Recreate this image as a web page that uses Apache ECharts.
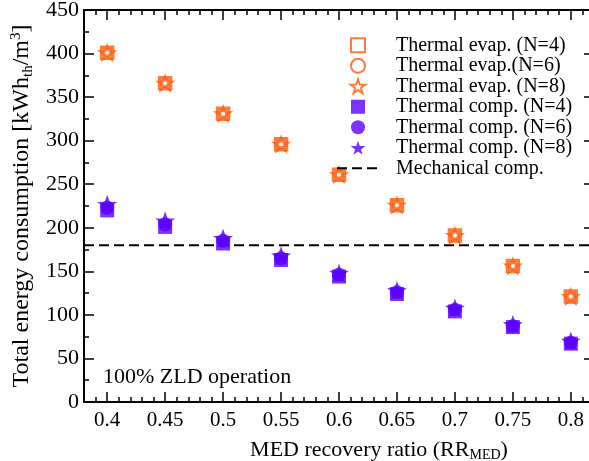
<!DOCTYPE html>
<html>
<head>
<meta charset="utf-8">
<script src="https://cdn.jsdelivr.net/npm/echarts@6/dist/echarts.min.js"></script>
<style>
  html, body { margin: 0; padding: 0; background: #fff; }
  #chart { width: 589px; height: 461px; }
</style>
</head>
<body>
<div id="chart"></div>
<script>
const ratios = [0.4, 0.45, 0.5, 0.55, 0.6, 0.65, 0.7, 0.75, 0.8];
const evapN4 = [401, 366, 331, 296, 261, 226, 191, 156, 121];
const evapN6 = [401, 366, 331, 296, 261, 226, 191, 156, 121];
const evapN8 = [401, 366, 331, 296, 261, 226, 191, 156, 121];
const compN4 = [220, 201, 182, 163, 144, 124, 104, 86, 67];
const compN6 = [223, 204, 185, 165, 146, 126, 106, 87, 68];
const compN8 = [227, 208, 188, 168, 148, 128, 108, 89, 70];
const mechanical = 180;
const xMin = 0.38;
const xMax = 0.82;
const xTicks = [0.4, 0.45, 0.5, 0.55, 0.6, 0.65, 0.7, 0.75, 0.8];

const FONT = "Liberation Serif";
const ORANGE = "#ff5a0a";
const PURPLE = "#5a00ff";
const STAR = "path://M0,-10L2.35,-3.24L9.51,-3.09L3.8,1.24L5.88,8.09L0,4L-5.88,8.09L-3.8,1.24L-9.51,-3.09L-2.35,-3.24Z";
const SQUARE = "path://M0,0H10V10H0Z";

const pairs = (ys) => ratios.map((x, i) => [x, ys[i]]);

const chart = echarts.init(document.getElementById("chart"));

const minorX = (pos) => ({
  type: "value",
  position: pos,
  min: xMin,
  max: xMax,
  interval: 0.01,
  axisLine: { show: true, lineStyle: { color: "#000", width: 2 } },
  axisTick: { show: true, inside: true, length: 5, lineStyle: { color: "#000", width: 1.5 } },
  axisLabel: { show: false },
  splitLine: { show: false },
});

const majorX = (pos, labels) => ({
  type: "value",
  position: pos,
  min: xMin,
  max: xMax,
  axisLine: { show: false },
  axisTick: { show: true, inside: true, length: 10, customValues: xTicks, lineStyle: { color: "#000", width: 1.5 } },
  axisLabel: {
    show: labels,
    customValues: xTicks,
    margin: 8,
    color: "#000",
    fontFamily: FONT,
    fontSize: 21,
    formatter: (v) => String(v),
  },
  splitLine: { show: false },
});

const yAxisOf = (pos, labels) => ({
  type: "value",
  position: pos,
  min: 0,
  max: 450,
  interval: 50,
  axisLine: { show: true, lineStyle: { color: "#000", width: 2 } },
  axisTick: { show: true, inside: true, length: 10, lineStyle: { color: "#000", width: 1.5 } },
  minorTick: { show: true, splitNumber: 2, length: 5, lineStyle: { color: "#000", width: 1.5 } },
  axisLabel: { show: labels, margin: 5, color: "#000", fontFamily: FONT, fontSize: 22 },
  splitLine: { show: false },
  minorSplitLine: { show: false },
});

const xAxes = [minorX("bottom"), majorX("bottom", true), minorX("top"), majorX("top", false)];
xAxes[1].name = "{a|MED recovery ratio (RR}{s|MED}{a|)}";
xAxes[1].nameLocation = "middle";
xAxes[1].nameGap = 36;
xAxes[1].nameTextStyle = {
  color: "#000",
  padding: [0, 0, 0, 80],
  rich: {
    a: { fontFamily: FONT, fontSize: 22, lineHeight: 24, color: "#000" },
    s: { fontFamily: FONT, fontSize: 14, lineHeight: 14, verticalAlign: "bottom", color: "#000" },
  },
};

const yAxes = [yAxisOf("left", true), yAxisOf("right", false)];
yAxes[0].name = "{a|Total energy consumption [kWh}{s|th}{a|/m}{p|3}{a|]}";
yAxes[0].nameLocation = "middle";
yAxes[0].nameGap = 48;
yAxes[0].nameTextStyle = {
  color: "#000",
  rich: {
    a: { fontFamily: FONT, fontSize: 24, lineHeight: 27, color: "#000" },
    s: { fontFamily: FONT, fontSize: 15, lineHeight: 15, verticalAlign: "bottom", color: "#000" },
    p: { fontFamily: FONT, fontSize: 15, lineHeight: 15, verticalAlign: "top", color: "#000" },
  },
};

const option = {
  animation: false,
  backgroundColor: "#fff",
  grid: { left: 84, top: 10, right: -5, bottom: 59, outerBoundsMode: "none" },
  xAxis: xAxes,
  yAxis: yAxes,
  legend: {
    left: 331,
    top: 30,
    orient: "vertical",
    itemWidth: 42,
    itemHeight: 14,
    itemGap: 0,
    textStyle: { fontFamily: FONT, fontSize: 20, lineHeight: 20.5, color: "#000", padding: [0, 0, 0, 12] },
    data: [
      "Thermal evap. (N=4)",
      "Thermal evap.(N=6)",
      "Thermal evap. (N=8)",
      "Thermal comp. (N=4)",
      "Thermal comp. (N=6)",
      "Thermal comp. (N=8)",
      "Mechanical comp.",
    ],
  },
  graphic: [
    {
      type: "text",
      left: 103,
      top: 366,
      style: { text: "100% ZLD operation", font: "22px 'Liberation Serif'", fill: "#000" },
    },
  ],
  series: [
    {
      name: "Mechanical comp.",
      type: "line",
      symbol: "none",
      z: 1,
      lineStyle: { color: "#000", width: 2, type: [10, 5] },
      itemStyle: { color: "transparent" },
      data: [[xMin, mechanical], [xMax, mechanical]],
    },
    {
      name: "Thermal evap. (N=8)",
      type: "scatter",
      symbol: STAR,
      symbolSize: 16,
      symbolKeepAspect: true,
      itemStyle: { color: "#fff", borderColor: ORANGE, borderWidth: 1.5 },
      data: pairs(evapN8),
    },
    {
      name: "Thermal evap. (N=4)",
      type: "scatter",
      symbol: SQUARE,
      symbolSize: 11,
      symbolKeepAspect: true,
      itemStyle: { color: "#fff", borderColor: ORANGE, borderWidth: 3.5 },
      data: pairs(evapN4),
    },
    {
      name: "Thermal evap.(N=6)",
      type: "scatter",
      symbol: "circle",
      symbolSize: 7,
      itemStyle: { color: "#fff", borderColor: ORANGE, borderWidth: 3 },
      data: pairs(evapN6),
    },
    {
      name: "Thermal comp. (N=8)",
      type: "scatter",
      symbol: STAR,
      symbolSize: 20,
      symbolKeepAspect: true,
      itemStyle: { color: PURPLE },
      data: pairs(compN8),
    },
    {
      name: "Thermal comp. (N=6)",
      type: "scatter",
      symbol: "circle",
      symbolSize: 14,
      itemStyle: { color: PURPLE },
      data: pairs(compN6),
    },
    {
      name: "Thermal comp. (N=4)",
      type: "scatter",
      symbol: SQUARE,
      symbolSize: 14,
      symbolKeepAspect: true,
      itemStyle: { color: PURPLE },
      data: pairs(compN4),
    },
  ],
};

chart.setOption(option);
window.addEventListener("resize", () => {
  chart.resize();
});
</script>
</body>
</html>
